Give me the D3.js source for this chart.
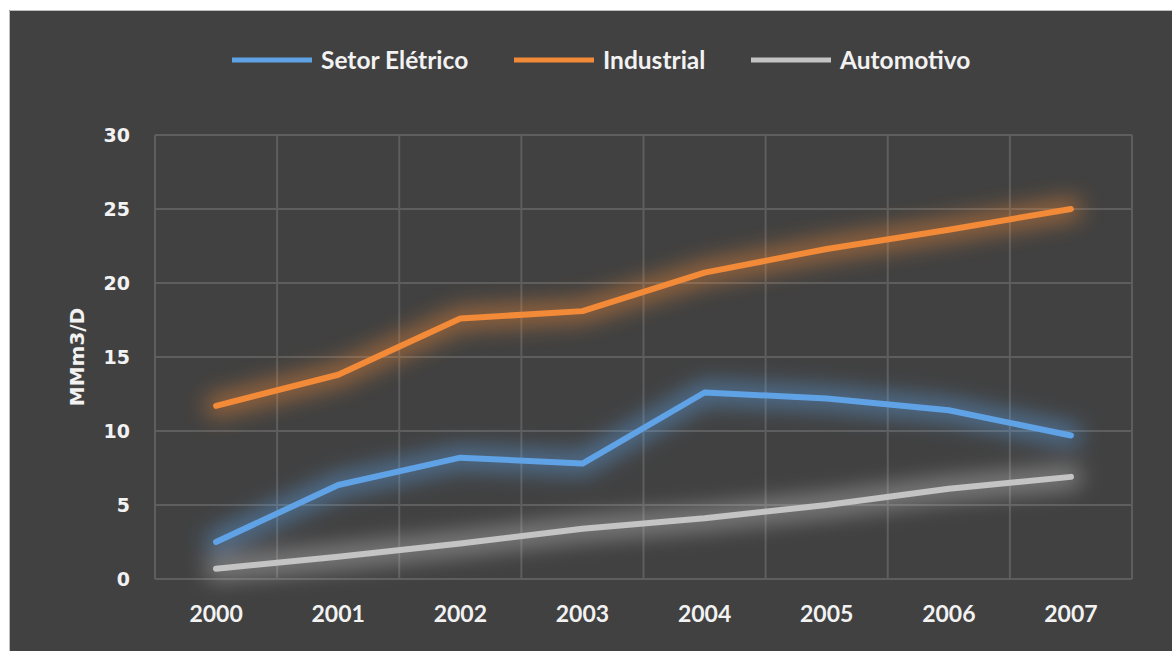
<!DOCTYPE html>
<html>
<head>
<meta charset="utf-8">
<script src="https://cdn.jsdelivr.net/npm/d3@7"></script>
<style>
  html, body { margin: 0; padding: 0; background: #ffffff; }
  svg { display: block; }
</style>
</head>
<body>
<div id="chart"></div>
<script>
// ---- data ----
const years = ["2000", "2001", "2002", "2003", "2004", "2005", "2006", "2007"];
const setorEletrico = [2.5, 6.35, 8.2, 7.8, 12.6, 12.2, 11.4, 9.7];
const industrial = [11.7, 13.8, 17.6, 18.1, 20.7, 22.3, 23.6, 25.0];
const automotivo = [0.7, 1.5, 2.4, 3.4, 4.1, 5.0, 6.1, 6.9];
const seriesNames = ["Setor Elétrico", "Industrial", "Automotivo"];
const seriesColors = ["#5fa3e6", "#f28a38", "#c4c4c4"];
const yTicks = [0, 5, 10, 15, 20, 25, 30];
const yTitle = "MMm3/D";

const W = 1172, H = 651;
const svg = d3.select("#chart").append("svg").attr("width", W).attr("height", H);

// background frame
svg.append("rect").attr("x", 0).attr("y", 0).attr("width", W).attr("height", H).attr("fill", "#ffffff");
svg.append("rect").attr("x", 9).attr("y", 10).attr("width", W - 9).attr("height", H - 10)
  .attr("fill", "#414141");
svg.append("path").attr("d", `M9.5,${H} V10.5 H${W}`).attr("fill", "none")
  .attr("stroke", "#bdbdbd").attr("stroke-width", 1);

const plot = { left: 155, right: 1132, top: 135, bottom: 579 };

const x = d3.scaleBand().domain(years).range([plot.left, plot.right]).padding(0);
const y = d3.scaleLinear().domain([0, 30]).range([plot.bottom, plot.top]);

const defs = svg.append("defs");
const glow = defs.append("filter").attr("id", "glow")
  .attr("x", "-20%").attr("y", "-60%").attr("width", "140%").attr("height", "220%");
glow.append("feGaussianBlur").attr("stdDeviation", 11);

// gridlines
const grid = svg.append("g");
grid.selectAll("line.h").data(yTicks).join("line")
  .attr("x1", plot.left).attr("x2", plot.right)
  .attr("y1", d => y(d)).attr("y2", d => y(d))
  .attr("stroke", "#5e5e5e").attr("stroke-width", 2);
const bounds = years.map(d => x(d)).concat([x(years[years.length - 1]) + x.bandwidth()]);
grid.selectAll("line.v").data(bounds).join("line")
  .attr("x1", d => d).attr("x2", d => d)
  .attr("y1", plot.top).attr("y2", plot.bottom)
  .attr("stroke", "#5e5e5e").attr("stroke-width", 2);

// y axis
const yAxis = d3.axisLeft(y).tickValues(yTicks).tickSize(0).tickPadding(0);
const yg = svg.append("g").attr("transform", `translate(130,0)`).call(yAxis);
yg.select(".domain").remove();
yg.selectAll("text").attr("fill", "#f2f2f2")
  .style("font-family", "'DejaVu Sans', sans-serif").style("font-weight", "bold").style("font-size", "19px")
  .attr("dy", "0.36em");

// x axis
const xAxis = d3.axisBottom(x).tickSize(0).tickPadding(0);
const xg = svg.append("g").attr("transform", `translate(0,${plot.bottom})`).call(xAxis);
xg.select(".domain").remove();
xg.selectAll("text").attr("fill", "#f2f2f2").attr("y", 43).attr("dy", 0)
  .style("font-family", "Lato, sans-serif").style("font-weight", "bold").style("font-size", "23px");

// y title
svg.append("text").attr("transform", `translate(84,${(plot.top + plot.bottom) / 2}) rotate(-90)`)
  .attr("text-anchor", "middle").attr("fill", "#f2f2f2")
  .style("font-family", "'DejaVu Sans', sans-serif").style("font-weight", "bold").style("font-size", "20px")
  .text(yTitle);

// lines
const data = [setorEletrico, industrial, automotivo];
const line = d3.line().x((d, i) => x(years[i]) + x.bandwidth() / 2).y(d => y(d));
const order = [2, 0, 1];
const glows = svg.append("g").attr("filter", "url(#glow)").attr("opacity", 0.5);
order.forEach(k => {
  glows.append("path").datum(data[k]).attr("d", line).attr("fill", "none")
    .attr("stroke", seriesColors[k]).attr("stroke-width", 22).attr("stroke-linejoin", "round").attr("stroke-linecap", "round");
});
order.forEach(k => {
  svg.append("path").datum(data[k]).attr("d", line).attr("fill", "none")
    .attr("stroke", seriesColors[k]).attr("stroke-width", 6).attr("stroke-linejoin", "round").attr("stroke-linecap", "round");
});

// legend
const legendX = [232, 514, 751];
const leg = svg.append("g");
seriesNames.forEach((name, i) => {
  const g = leg.append("g").attr("transform", `translate(${legendX[i]},60)`);
  g.append("line").attr("x1", 0).attr("x2", 80).attr("y1", 0).attr("y2", 0)
    .attr("stroke", seriesColors[i]).attr("stroke-width", 5);
  g.append("text").attr("x", 89).attr("y", 0).attr("dy", "0.35em").attr("fill", "#f2f2f2")
    .style("font-family", "Lato, sans-serif").style("font-weight", "bold").style("font-size", "24.5px")
    .text(name);
});
</script>
</body>
</html>
